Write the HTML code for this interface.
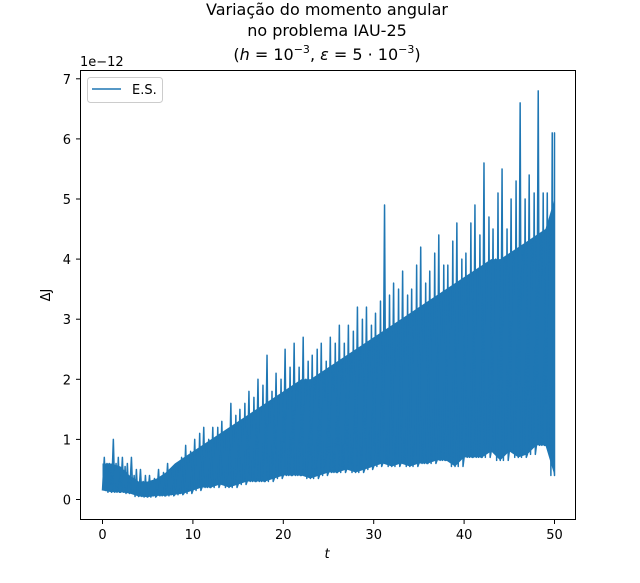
<!DOCTYPE html>
<html><head><meta charset="utf-8">
<style>
body{margin:0;background:#fff;}
svg{display:block;font-family:"DejaVu Sans","Liberation Sans",sans-serif;}
</style></head>
<body>
<svg id="chart" width="640" height="583" viewBox="0 0 640 583" xmlns="http://www.w3.org/2000/svg">
  <rect width="640" height="583" fill="#fff"/>
  <g font-size="16" text-anchor="middle" fill="#000">
    <text x="327" y="15">Variação do momento angular</text>
    <text x="327" y="36">no problema IAU-25</text>
    <text x="327" y="60">(<tspan font-style="italic">h</tspan> = 10<tspan dy="-7" font-size="11">−3</tspan><tspan dy="7">, </tspan><tspan font-style="italic">ε</tspan> = 5 · 10<tspan dy="-7" font-size="11">−3</tspan><tspan dy="7">)</tspan></text>
  </g>
  <g id="plot"></g>
  <rect x="80.5" y="70.5" width="495" height="449" fill="none" stroke="#000" stroke-width="1"/>
  <g id="xticks"></g>
  <g id="yticks"></g>
  <text x="80" y="66" font-size="13">1e−12</text>
  <text x="327" y="558" font-size="13" font-style="italic" text-anchor="middle">t</text>
  <text x="50" y="295" font-size="13" text-anchor="middle" transform="rotate(-90 50 295)">ΔJ</text>
  <g>
    <rect x="87.5" y="77.5" width="75" height="25" rx="3" fill="#fff" stroke="#ccc"/>
    <line x1="92" y1="89" x2="121" y2="89" stroke="#1f77b4" stroke-width="1.5"/>
    <text x="132" y="94" font-size="13">E.S.</text>
  </g>
</svg>
<script>
const tValues=[0,1,2,3,4,5,6,7,8,9,10,11,12,13,14,15,16,17,18,19,20,21,22,23,24,25,26,27,28,29,30,31,32,33,34,35,36,37,38,39,40,41,42,43,44,45,46,47,48,49,50];
const peakValues=[0.7,1.0,0.7,0.7,0.5,0.4,0.5,0.6,0.6,0.9,1.0,1.2,1.2,1.3,1.6,1.5,1.8,2.0,2.4,2.1,2.5,2.6,2.7,2.4,2.6,2.7,2.9,2.9,3.2,3.2,3.1,4.9,3.6,3.8,3.5,4.2,3.8,4.4,3.9,4.6,4.1,4.9,5.6,4.5,5.5,5.0,6.6,5.4,6.8,5.1,6.1];
const peak2Values=[0.6,0.7,0.6,0.5,0.4,0.35,0.45,0.5,0.7,0.8,1.1,1.0,1.2,1.1,1.4,1.6,1.7,1.9,1.8,2.0,2.2,2.2,2.3,2.5,2.3,2.6,2.6,2.8,3.0,2.9,3.3,3.4,3.5,3.4,3.9,3.6,4.1,3.9,4.3,4.0,4.6,4.4,4.7,5.1,4.5,5.3,5.0,5.1,5.1,6.1,6.1];
const topValues=[0.6,0.6,0.55,0.4,0.3,0.3,0.35,0.45,0.6,0.7,0.8,0.9,1.0,1.1,1.2,1.3,1.4,1.5,1.6,1.7,1.8,1.9,2.0,2.0,2.1,2.2,2.3,2.4,2.5,2.6,2.7,2.8,2.9,3.0,3.1,3.2,3.3,3.4,3.5,3.6,3.7,3.8,3.9,4.0,4.0,4.1,4.2,4.3,4.4,4.5,5.0];
const lowValues=[0.15,0.12,0.12,0.1,0.05,0.04,0.06,0.06,0.08,0.1,0.15,0.2,0.2,0.25,0.2,0.25,0.3,0.3,0.3,0.35,0.4,0.4,0.4,0.35,0.4,0.45,0.45,0.5,0.45,0.5,0.55,0.6,0.55,0.6,0.55,0.6,0.6,0.65,0.65,0.55,0.7,0.7,0.7,0.8,0.65,0.8,0.7,0.75,0.9,0.9,0.4];
const xTickValues=[0,10,20,30,40,50];
const yTickValues=[0,1,2,3,4,5,6,7];

const NS='http://www.w3.org/2000/svg';
function xs(t){return 102.5+t*9.04;}
function ys(v){return 499.5-v*60.1;}

const plot=document.getElementById('plot');
let band='';
tValues.forEach((t,i)=>{band+=(i?'L':'M')+xs(t)+','+ys(topValues[i]);});
for(let i=tValues.length-1;i>=0;i--){band+='L'+xs(tValues[i])+','+ys(lowValues[i]);}
band+='Z';
const bp=document.createElementNS(NS,'path');
bp.setAttribute('d',band);
bp.setAttribute('fill','#1f77b4');


plot.appendChild(bp);

let d='';
tValues.forEach((t,i)=>{
  d+=(i?'L':'M')+xs(t)+','+ys(lowValues[i]);
  if(i<tValues.length-1){
    const n=tValues[i+1]-t;
    d+='L'+xs(t+0.2*n)+','+ys(peakValues[i]);
    d+='L'+xs(t+0.35*n)+','+ys(lowValues[i]);
    d+='L'+xs(t+0.5*n)+','+ys(topValues[i]);
    d+='L'+xs(t+0.6*n)+','+ys(lowValues[i+1]);
    d+='L'+xs(t+0.75*n)+','+ys(peak2Values[i]);
    d+='L'+xs(t+0.88*n)+','+ys(lowValues[i]);
  } else {
    d+='L'+xs(t)+','+ys(peakValues[i]);
    d+='L'+xs(t)+','+ys(2);
  }
});
const lp=document.createElementNS(NS,'path');
lp.setAttribute('d',d);
lp.setAttribute('fill','none');
lp.setAttribute('stroke','#1f77b4');
lp.setAttribute('stroke-width','1.5');
lp.setAttribute('stroke-linejoin','round');


plot.appendChild(lp);

const xg=document.getElementById('xticks');
xTickValues.forEach(v=>{
  const l=document.createElementNS(NS,'line');
  l.setAttribute('x1',xs(v));l.setAttribute('x2',xs(v));
  l.setAttribute('y1',520);l.setAttribute('y2',524);
  l.setAttribute('stroke','#000');
  
  
  xg.appendChild(l);
  const tx=document.createElementNS(NS,'text');
  tx.setAttribute('x',xs(v));tx.setAttribute('y',539);
  tx.setAttribute('font-size','13');tx.setAttribute('text-anchor','middle');
  tx.textContent=v;
  
  
  xg.appendChild(tx);
});
const yg=document.getElementById('yticks');
yTickValues.forEach(v=>{
  const l=document.createElementNS(NS,'line');
  l.setAttribute('x1',76);l.setAttribute('x2',80);
  l.setAttribute('y1',ys(v));l.setAttribute('y2',ys(v));
  l.setAttribute('stroke','#000');
  
  
  yg.appendChild(l);
  const tx=document.createElementNS(NS,'text');
  tx.setAttribute('x',71);tx.setAttribute('y',ys(v)+5);
  tx.setAttribute('font-size','13');tx.setAttribute('text-anchor','end');
  tx.textContent=v;
  
  
  yg.appendChild(tx);
});
</script>
</body></html>
